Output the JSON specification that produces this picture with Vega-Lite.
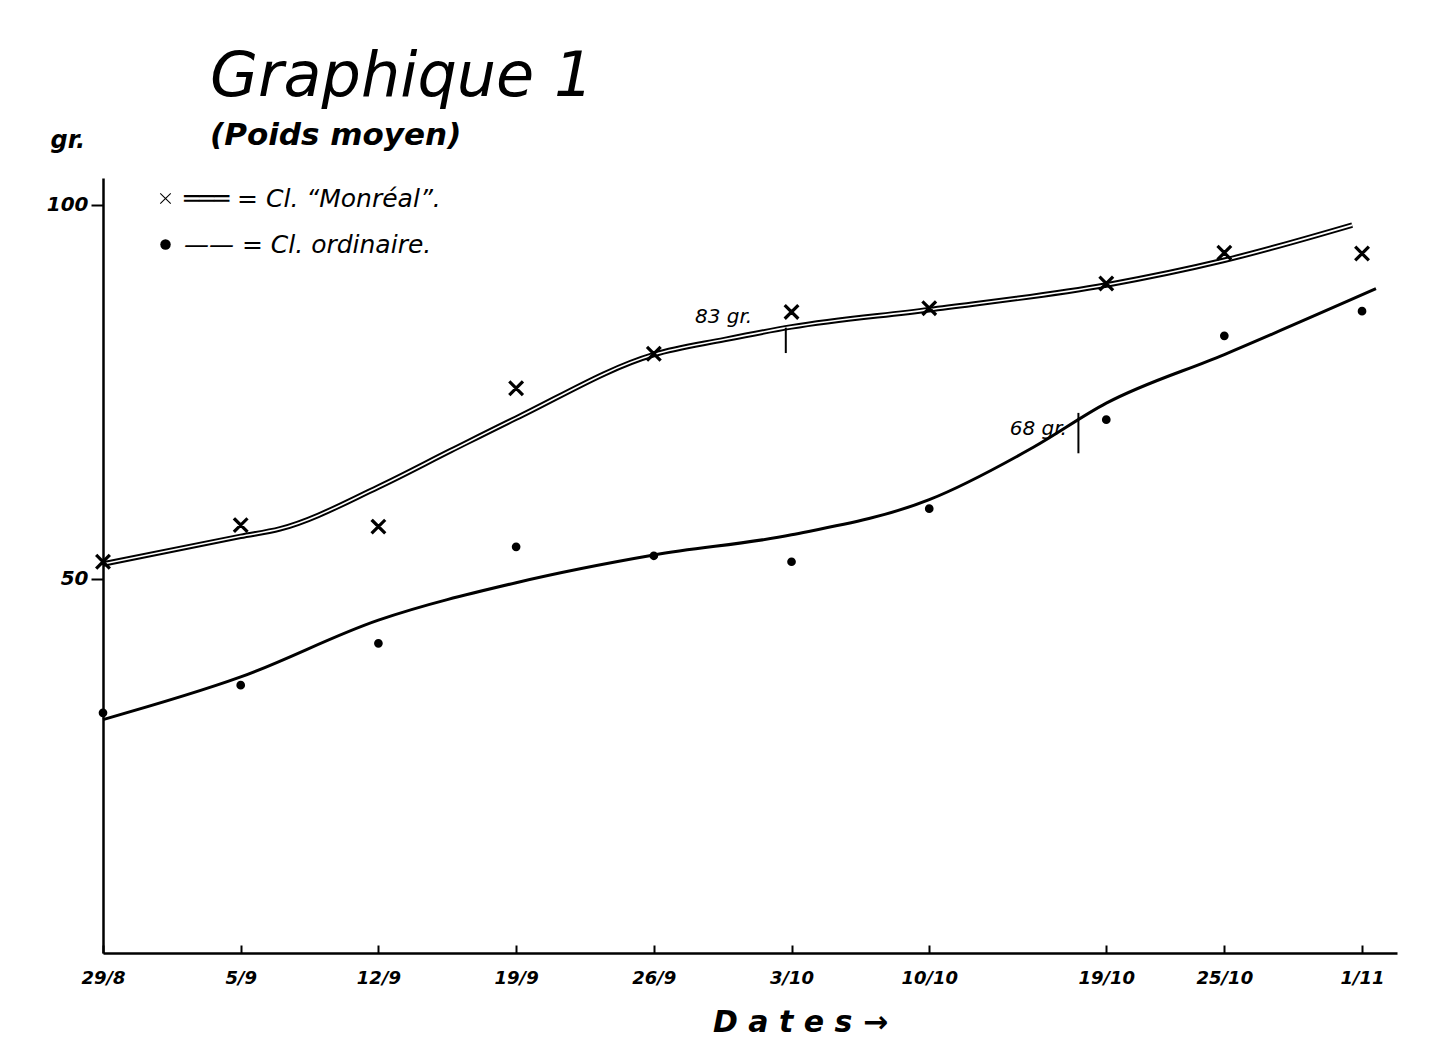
{
  "$schema": "https://vega.github.io/schema/vega-lite/v6.json",
  "width": 1294,
  "height": 775,
  "autosize": {"type": "none"},
  "padding": {"left": 103, "top": 178, "right": 53, "bottom": 111},
  "background": "white",
  "title": {
    "text": "Graphique 1",
    "subtitle": "(Poids moyen)",
    "anchor": "start",
    "frame": "group",
    "dx": 107,
    "offset": -24,
    "font": "DejaVu Sans",
    "fontSize": 62,
    "fontStyle": "italic",
    "fontWeight": "normal",
    "color": "black",
    "subtitleFont": "DejaVu Sans",
    "subtitleFontSize": 31,
    "subtitleFontStyle": "italic",
    "subtitleFontWeight": "bold",
    "subtitleColor": "black",
    "subtitlePadding": 12
  },
  "datasets": {
    "curves": [
      {"series": "Monréal", "date": "1930-08-29", "value": 52.0},
      {"series": "Monréal", "date": "1930-09-05", "value": 55.7},
      {"series": "Monréal", "date": "1930-09-07", "value": 56.7},
      {"series": "Monréal", "date": "1930-09-12", "value": 62.3},
      {"series": "Monréal", "date": "1930-09-15T17:00:00Z", "value": 67.2},
      {"series": "Monréal", "date": "1930-09-19", "value": 71.5},
      {"series": "Monréal", "date": "1930-09-26", "value": 80.0},
      {"series": "Monréal", "date": "1930-09-29T14:00:00Z", "value": 82.0},
      {"series": "Monréal", "date": "1930-10-03", "value": 83.7},
      {"series": "Monréal", "date": "1930-10-10", "value": 86.0},
      {"series": "Monréal", "date": "1930-10-19", "value": 89.3},
      {"series": "Monréal", "date": "1930-10-25", "value": 92.6},
      {"series": "Monréal", "date": "1930-10-31T12:00:00Z", "value": 97.3},
      {"series": "ordinaire", "date": "1930-08-29", "value": 31.2},
      {"series": "ordinaire", "date": "1930-09-05", "value": 36.9},
      {"series": "ordinaire", "date": "1930-09-12", "value": 44.5},
      {"series": "ordinaire", "date": "1930-09-19", "value": 49.5},
      {"series": "ordinaire", "date": "1930-09-26", "value": 53.2},
      {"series": "ordinaire", "date": "1930-10-03", "value": 55.9},
      {"series": "ordinaire", "date": "1930-10-10", "value": 60.6},
      {"series": "ordinaire", "date": "1930-10-15T07:00:00Z", "value": 67.6},
      {"series": "ordinaire", "date": "1930-10-19", "value": 73.5},
      {"series": "ordinaire", "date": "1930-10-25", "value": 80.0},
      {"series": "ordinaire", "date": "1930-11-01T17:00:00Z", "value": 88.8}
    ],
    "obs": [
      {"series": "Monréal", "date": "1930-08-29", "value": 52.3},
      {"series": "Monréal", "date": "1930-09-05", "value": 57.2},
      {"series": "Monréal", "date": "1930-09-12", "value": 57.0},
      {"series": "Monréal", "date": "1930-09-19", "value": 75.5},
      {"series": "Monréal", "date": "1930-09-26", "value": 80.1},
      {"series": "Monréal", "date": "1930-10-03", "value": 85.7},
      {"series": "Monréal", "date": "1930-10-10", "value": 86.2},
      {"series": "Monréal", "date": "1930-10-19", "value": 89.5},
      {"series": "Monréal", "date": "1930-10-25", "value": 93.6},
      {"series": "Monréal", "date": "1930-11-01", "value": 93.5},
      {"series": "ordinaire", "date": "1930-08-29", "value": 32.1},
      {"series": "ordinaire", "date": "1930-09-05", "value": 35.8},
      {"series": "ordinaire", "date": "1930-09-12", "value": 41.4},
      {"series": "ordinaire", "date": "1930-09-19", "value": 54.3},
      {"series": "ordinaire", "date": "1930-09-26", "value": 53.1},
      {"series": "ordinaire", "date": "1930-10-03", "value": 52.3},
      {"series": "ordinaire", "date": "1930-10-10", "value": 59.4},
      {"series": "ordinaire", "date": "1930-10-19", "value": 71.3},
      {"series": "ordinaire", "date": "1930-10-25", "value": 82.5},
      {"series": "ordinaire", "date": "1930-11-01", "value": 85.8}
    ],
    "marks": [
      {"date": "1930-10-02T17:00:00Z", "lo": 80.2, "hi": 83.6},
      {"date": "1930-10-17T14:00:00Z", "lo": 66.8, "hi": 72.2}
    ],
    "notes": [
      {"date": "1930-10-01T00:00:00Z", "value": 85.0, "label": "83 gr."},
      {"date": "1930-10-17T00:00:00Z", "value": 70.0, "label": "68 gr."}
    ]
  },
  "layer": [
    {
      "data": {"name": "curves"},
      "transform": [{"filter": "datum.series == 'Monréal'"}],
      "mark": {"type": "line", "interpolate": "monotone", "color": "black", "strokeWidth": 5.5},
      "encoding": {
        "x": {
          "field": "date",
          "type": "temporal",
          "scale": {
            "type": "utc",
            "domain": [
              {"year": 1930, "month": 8, "date": 29, "utc": true},
              {"year": 1930, "month": 11, "date": 2, "hours": 18, "minutes": 40, "utc": true}
            ]
          },
          "axis": {
            "values": [
              {"year": 1930, "month": 8, "date": 29, "utc": true},
              {"year": 1930, "month": 9, "date": 5, "utc": true},
              {"year": 1930, "month": 9, "date": 12, "utc": true},
              {"year": 1930, "month": 9, "date": 19, "utc": true},
              {"year": 1930, "month": 9, "date": 26, "utc": true},
              {"year": 1930, "month": 10, "date": 3, "utc": true},
              {"year": 1930, "month": 10, "date": 10, "utc": true},
              {"year": 1930, "month": 10, "date": 19, "utc": true},
              {"year": 1930, "month": 10, "date": 25, "utc": true},
              {"year": 1930, "month": 11, "date": 1, "utc": true}
            ],
            "format": "%-d/%-m",
            "title": "D a t e s  →",
            "titleX": 697,
            "titleY": 69,
            "titleAlign": "center",
            "titleBaseline": "middle",
            "titleFontSize": 30,
            "titleFontStyle": "italic",
            "titleFontWeight": "bold",
            "tickSize": -8,
            "labelPadding": 24,
            "labelFontSize": 18,
            "labelFontStyle": "italic",
            "labelFontWeight": "bold",
            "labelFlush": false,
            "labelOverlap": false,
            "grid": false
          }
        },
        "y": {
          "field": "value",
          "type": "quantitative",
          "scale": {"domain": [0, 103.6], "nice": false, "zero": false},
          "axis": {
            "values": [50, 100],
            "title": "gr.",
            "titleAngle": 0,
            "titleX": -53,
            "titleY": -38,
            "titleAlign": "left",
            "titleBaseline": "middle",
            "titleFontSize": 24,
            "titleFontStyle": "italic",
            "titleFontWeight": "bold",
            "tickSize": 12,
            "labelPadding": 3,
            "labelFontSize": 20,
            "labelFontStyle": "italic",
            "labelFontWeight": "bold",
            "grid": false
          }
        }
      }
    },
    {
      "data": {"name": "curves"},
      "transform": [{"filter": "datum.series == 'Monréal'"}],
      "mark": {"type": "line", "interpolate": "monotone", "color": "white", "strokeWidth": 1.6},
      "encoding": {
        "x": {"field": "date", "type": "temporal"},
        "y": {"field": "value", "type": "quantitative"}
      }
    },
    {
      "data": {"name": "curves"},
      "transform": [{"filter": "datum.series == 'ordinaire'"}],
      "mark": {"type": "line", "interpolate": "monotone", "color": "black", "strokeWidth": 3},
      "encoding": {
        "x": {"field": "date", "type": "temporal"},
        "y": {"field": "value", "type": "quantitative"}
      }
    },
    {
      "data": {"name": "obs"},
      "mark": {"type": "point", "filled": true, "color": "black", "stroke": "black", "strokeWidth": 2, "opacity": 1},
      "encoding": {
        "x": {"field": "date", "type": "temporal"},
        "y": {"field": "value", "type": "quantitative"},
        "shape": {
          "field": "series",
          "type": "nominal",
          "scale": {
            "domain": ["Monréal", "ordinaire"],
            "range": [
              "M-0.929,-1.071L1.071,0.929L0.929,1.071L-1.071,-0.929ZM1.071,-0.929L-0.929,1.071L-1.071,0.929L0.929,-1.071Z",
              "circle"
            ]
          },
          "legend": {
            "orient": "none",
            "legendX": 50,
            "legendY": 8,
            "title": null,
            "labelExpr": "datum.label == 'Monréal' ? '═══ = Cl. “Monréal”.' : '—— = Cl. ordinaire.'",
            "labelFont": "DejaVu Sans",
            "labelFontSize": 25,
            "labelFontStyle": "italic",
            "labelColor": "black",
            "labelLimit": 600,
            "labelOffset": 6,
            "symbolSize": 110,
            "symbolFillColor": "black",
            "symbolStrokeColor": "black",
            "symbolStrokeWidth": 2,
            "symbolOpacity": 1,
            "rowPadding": 20
          }
        },
        "size": {
          "condition": {"test": "datum.series == 'Monréal'", "value": 150},
          "value": 45
        }
      }
    },
    {
      "data": {"name": "marks"},
      "mark": {"type": "rule", "color": "black", "strokeWidth": 2},
      "encoding": {
        "x": {"field": "date", "type": "temporal"},
        "y": {"field": "lo", "type": "quantitative"},
        "y2": {"field": "hi"}
      }
    },
    {
      "data": {"name": "notes"},
      "mark": {"type": "text", "align": "right", "baseline": "middle", "fontSize": 20, "fontStyle": "italic", "color": "black", "font": "DejaVu Sans"},
      "encoding": {
        "x": {"field": "date", "type": "temporal"},
        "y": {"field": "value", "type": "quantitative"},
        "text": {"field": "label"}
      }
    }
  ],
  "config": {
    "font": "DejaVu Sans",
    "view": {"stroke": null},
    "axis": {
      "domainColor": "black",
      "domainWidth": 2.5,
      "tickColor": "black",
      "tickWidth": 2,
      "labelColor": "black",
      "titleColor": "black",
      "labelFont": "DejaVu Sans",
      "titleFont": "DejaVu Sans"
    }
  }
}
